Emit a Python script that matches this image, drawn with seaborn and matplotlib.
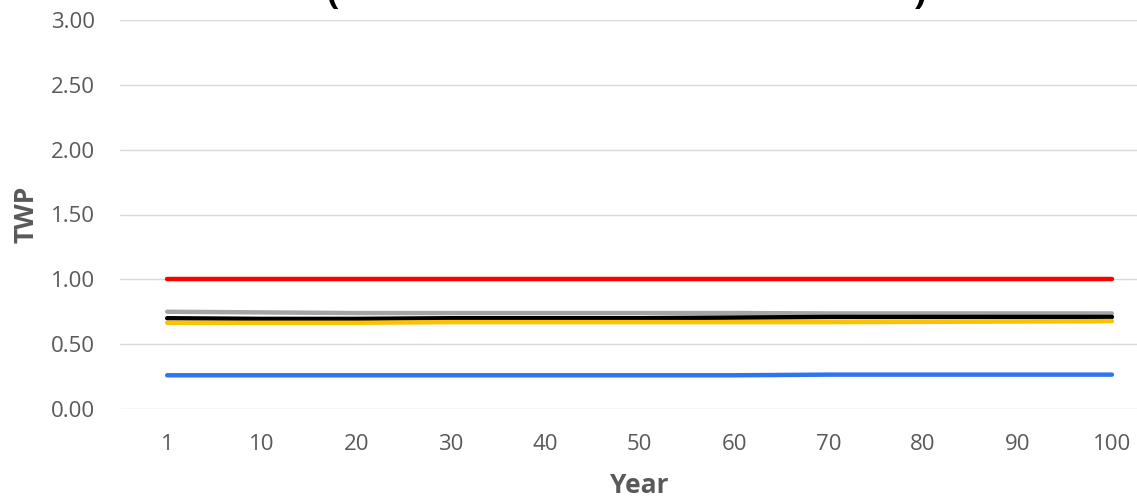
import matplotlib
matplotlib.use("Agg")
import matplotlib.pyplot as plt
import seaborn as sns
import pandas as pd

years = ["1", "10", "20", "30", "40", "50", "60", "70", "80", "90", "100"]
red_vals = [1.00, 1.00, 1.00, 1.00, 1.00, 1.00, 1.00, 1.00, 1.00, 1.00, 1.00]
gray_vals = [0.75, 0.745, 0.74, 0.74, 0.74, 0.74, 0.74, 0.737, 0.737, 0.737, 0.737]
black_vals = [0.70, 0.695, 0.695, 0.70, 0.70, 0.70, 0.705, 0.71, 0.71, 0.71, 0.71]
yellow_vals = [0.665, 0.665, 0.665, 0.67, 0.67, 0.67, 0.67, 0.67, 0.672, 0.675, 0.678]
blue_vals = [0.26, 0.26, 0.26, 0.26, 0.26, 0.26, 0.26, 0.265, 0.265, 0.265, 0.265]
y_ticks = [0.0, 0.5, 1.0, 1.5, 2.0, 2.5, 3.0]

series = {
    "Gray": gray_vals,
    "Black": black_vals,
    "Yellow": yellow_vals,
    "Blue": blue_vals,
    "Red": red_vals,
}
colors = {
    "Gray": "#a5a5a5",
    "Black": "#000000",
    "Yellow": "#ffc000",
    "Blue": "#2e75f0",
    "Red": "#ff0000",
}

rows = []
for name, vals in series.items():
    for i, v in enumerate(vals):
        rows.append({"pos": i, "Year": years[i], "TWP": v, "series": name})
df = pd.DataFrame(rows)

sns.set_theme(style="white")
plt.rcParams["font.family"] = ["Open Sans", "DejaVu Sans"]

fig = plt.figure(figsize=(11.37, 5.0), dpi=100)
ax = fig.add_axes([0.1055, 0.182, 0.914, 0.778])

sns.lineplot(data=df, x="pos", y="TWP", hue="series", palette=colors,
             linewidth=3.2, legend=False, ax=ax, solid_capstyle="round")

ax.set_xlim(-0.5, len(years) - 0.5)
ax.set_ylim(0, 3)
ax.set_yticks(y_ticks)
ax.set_yticklabels([f"{t:.2f}" for t in y_ticks])
ax.set_xticks(range(len(years)))
ax.set_xticklabels(years)
ax.yaxis.grid(True, color="#d9d9d9", linewidth=1)
ax.xaxis.grid(False)
for s in ax.spines.values():
    s.set_visible(False)
ax.tick_params(axis="both", length=0, labelsize=16, colors="#595959")
ax.tick_params(axis="y", pad=18)
ax.tick_params(axis="x", pad=18)
ax.set_xlabel("Year", fontsize=19, fontweight="bold", color="#595959", labelpad=12)
ax.set_ylabel("TWP", fontsize=19, fontweight="bold", color="#595959", labelpad=8)

# lower edge of the chart title, mostly above the canvas
fig.text(333 / 1137, 1.0 - 13 / 500, "(", fontsize=26, fontweight="bold",
         ha="center", va="bottom", color="black")
fig.text(920 / 1137, 1.0 - 13 / 500, ")", fontsize=26, fontweight="bold",
         ha="center", va="bottom", color="black")

fig.savefig("out.png", dpi=100)
